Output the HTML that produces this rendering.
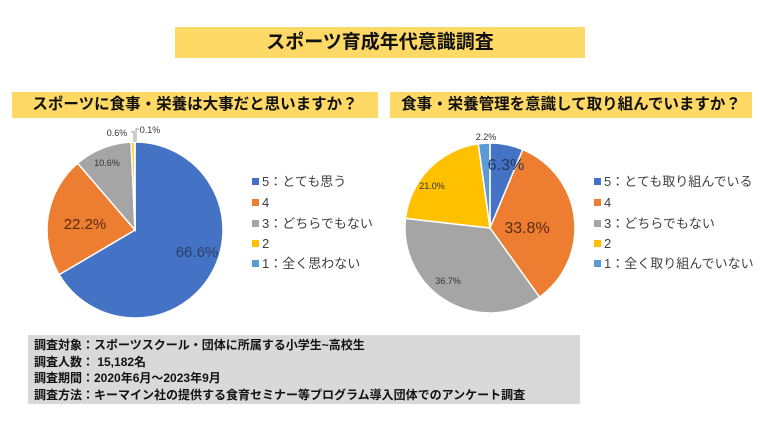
<!DOCTYPE html>
<html><head><meta charset="utf-8"><style>
body{margin:0;width:760px;height:428px;background:#fff;overflow:hidden;font-family:"Liberation Sans","Noto Sans CJK JP",sans-serif;position:relative}
.t{position:absolute;background:#FFD966;font-weight:bold;color:#111;text-align:center}
.info{position:absolute;left:28px;top:335px;width:552px;height:69px;background:#d9d9d9;font-weight:bold;font-size:12px;line-height:16.5px;padding:2px 0 0 6px;box-sizing:border-box;color:#111}
</style></head><body>
<div class="t" style="left:175px;top:27px;width:410px;height:31px;font-size:19px;line-height:31px">スポーツ育成年代意識調査</div>
<div class="t" style="left:12px;top:92px;width:366px;height:26px;font-size:15.5px;line-height:26px">スポーツに食事・栄養は大事だと思いますか？</div>
<div class="t" style="left:390px;top:92px;width:362px;height:26px;font-size:15.5px;line-height:26px">食事・栄養管理を意識して取り組んでいますか？</div>
<svg id="s" width="760" height="428" style="position:absolute;left:0;top:0" font-family="Liberation Sans, Noto Sans CJK JP, sans-serif"></svg>
<div class="info">調査対象：スポーツスクール・団体に所属する小学生~高校生<br>調査人数： 15,182名<br>調査期間：2020年6月～2023年9月<br>調査方法：キーマイン社の提供する食育セミナー等プログラム導入団体でのアンケート調査</div>
<script>
var C=["#4472C4","#ED7D31","#A5A5A5","#FFC000","#5B9BD5"];
var s='';
function pie(cx,cy,r,v){var a=0,t=v.reduce((x,y)=>x+y,0);v.forEach((d,i)=>{var a0=a/t*2*Math.PI;a+=d;var a1=a/t*2*Math.PI;
var x0=cx+r*Math.sin(a0),y0=cy-r*Math.cos(a0),x1=cx+r*Math.sin(a1),y1=cy-r*Math.cos(a1);
s+='<path d="M'+cx+','+cy+'L'+x0+','+y0+'A'+r+','+r+' 0 '+((a1-a0)>Math.PI?1:0)+' 1 '+x1+','+y1+'Z" fill="'+C[i]+'" stroke="#fff" stroke-width="1.5"/>';});}
pie(135,230,88,[66.6,22.2,10.6,0.6,0.1]);
pie(490,228,85,[6.3,33.8,36.7,21.0,2.2]);
function tx(x,y,t,sz,c){s+='<text x="'+x+'" y="'+y+'" font-size="'+sz+'" fill="'+c+'" text-anchor="middle">'+t+'</text>';}
tx(197,257,'66.6%',15,'#2d3f66');tx(85,229,'22.2%',15,'#5a2a0a');tx(107,166,'10.6%',9,'#333');
tx(117,136,'0.6%',9,'#333');tx(150,133,'0.1%',9,'#333');
s+='<polyline points="131,132 134,132 134,142" fill="none" stroke="#999"/><polyline points="136,142 136,129 139,129" fill="none" stroke="#999"/>';
tx(506,170,'6.3%',16,'#1f3864');tx(527,233,'33.8%',16,'#5a2a0a');tx(448,284,'36.7%',9,'#333');tx(432,189,'21.0%',9,'#333');tx(486,140,'2.2%',9,'#333');
function leg(x,ys,labels){labels.forEach((l,i)=>{s+='<rect x="'+x+'" y="'+(ys[i]-8)+'" width="7" height="7" fill="'+C[i]+'"/>';
s+='<text x="'+(x+10)+'" y="'+ys[i]+'" font-size="13" fill="#404040">'+l+'</text>';});}
var Y=[186,207,228,248,268];
leg(252,Y,['5：とても思う','4','3：どちらでもない','2','1：全く思わない']);
leg(594,Y,['5：とても取り組んでいる','4','3：どちらでもない','2','1：全く取り組んでいない']);
document.getElementById('s').innerHTML=s;
</script>
</body></html>
